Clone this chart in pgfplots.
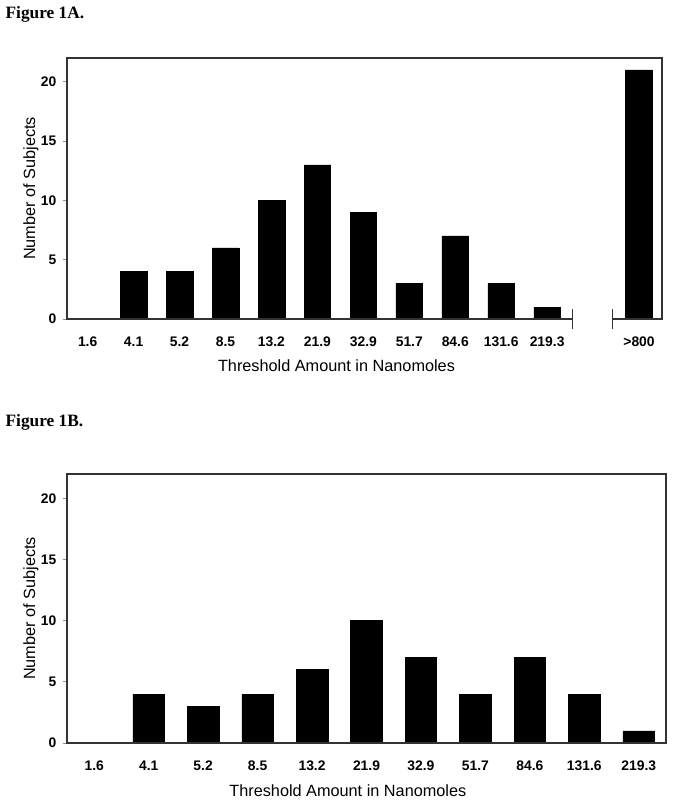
\documentclass[border=0pt]{standalone}
\usepackage{fontspec}
\setmainfont{Liberation Sans}
\newfontfamily\seriffont{Liberation Serif}
\usepackage{pgfplots}
\pgfplotsset{compat=1.18}
\pgfplotsset{
  figstyle/.style={
    scale only axis, clip=false,
    ymin=0, ymax=22, ytick={0,5,10,15,20},
    axis line style={draw=none},
    ytick pos=left, tick align=outside, major tick length=3pt,
    ytick style={draw=black!45, line width=0.6pt},
    xtick style={draw=none},
    /pgf/number format/assume math mode=true,
    ticklabel style={font=\fontsize{10.4}{12}\selectfont\bfseries},
    xticklabel style={yshift=-7pt},
    yticklabel style={xshift=-1.5pt},
    ylabel={Number of Subjects},
    xlabel={Threshold Amount in Nanomoles},
    label style={font=\fontsize{12.2}{14}\selectfont},
    ylabel style={yshift=-5pt},
    ybar, bar width=0.58,
    xtick=data,
  },
}
\begin{document}
\begin{tikzpicture}
\path[use as bounding box] (0,0) rectangle (513pt,-606pt);
% titles
\node[anchor=base west, inner sep=0pt, font=\seriffont\bfseries\fontsize{13}{15}\selectfont] at (4pt,-14pt) {Figure 1A.};
\node[anchor=base west, inner sep=0pt, font=\seriffont\bfseries\fontsize{13}{15}\selectfont] at (4pt,-319.5pt) {Figure 1B.};
% Figure 1A
\begin{axis}[figstyle,
  at={(50.25pt,-239.25pt)}, anchor=south west,
  width=446.25pt, height=195.75pt,
  xmin=-0.45, xmax=12.5,
  xticklabels={1.6,4.1,5.2,8.5,13.2,21.9,32.9,51.7,84.6,131.6,219.3,>800},
  xlabel style={xshift=-21pt, yshift=-3pt},
]
\addplot[fill=black, draw=black] coordinates {
  (0,0) (1,4) (2,4) (3,6) (4,10) (5,13) (6,9) (7,3) (8,7) (9,3) (10,1) (12,21)
};
\draw[black!80, line width=1.2pt] (axis cs:10.55,0) -- (rel axis cs:0,0) -- (rel axis cs:0,1) -- (rel axis cs:1,1) -- (rel axis cs:1,0) -- (axis cs:11.42,0);
\draw[black!80, line width=0.8pt] (axis cs:10.55,0) ++(0pt,7.5pt) -- ++(0pt,-15pt);
\draw[black!80, line width=0.8pt] (axis cs:11.42,0) ++(0pt,7.5pt) -- ++(0pt,-15pt);
\end{axis}
% Figure 1B
\begin{axis}[figstyle,
  at={(50.25pt,-557.25pt)}, anchor=south west,
  width=449.25pt, height=201.75pt,
  xmin=-0.5, xmax=10.5,
  xticklabels={1.6,4.1,5.2,8.5,13.2,21.9,32.9,51.7,84.6,131.6,219.3},
  xlabel style={xshift=-14pt, yshift=-3.5pt},
]
\addplot[fill=black, draw=black] coordinates {
  (0,0) (1,4) (2,3) (3,4) (4,6) (5,10) (6,7) (7,4) (8,7) (9,4) (10,1)
};
\draw[black!80, line width=1.2pt] (rel axis cs:0,0) rectangle (rel axis cs:1,1);
\end{axis}
\end{tikzpicture}
\end{document}
